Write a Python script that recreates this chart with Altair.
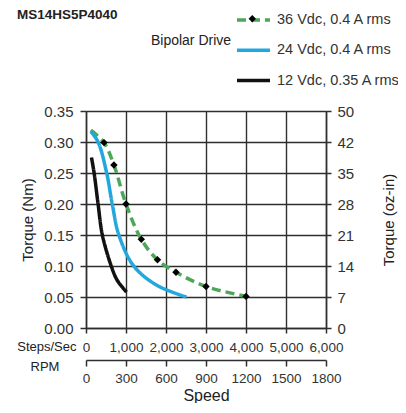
import altair as alt
import pandas as pd

# ---- data ----
series_names = ["36 Vdc, 0.4 A rms", "24 Vdc, 0.4 A rms", "12 Vdc, 0.35 A rms"]
series_colors = ["#4ea65a", "#22a7df", "#111111"]
series_dash = [[9, 5], [1, 0], [1, 0]]

speed_36 = [121, 450, 698, 1000, 1383, 1787, 2250, 3000, 4000]
torque_36 = [0.319, 0.299, 0.263, 0.200, 0.143, 0.110, 0.090, 0.067, 0.051]
marker_36 = [False, True, True, True, True, True, True, True, True]

speed_24 = [121, 302, 517, 656, 822, 1193, 1770, 2510]
torque_24 = [0.317, 0.300, 0.250, 0.200, 0.150, 0.100, 0.069, 0.050]

speed_12 = [137, 203, 302, 409, 631, 780, 1012]
torque_12 = [0.275, 0.250, 0.200, 0.150, 0.100, 0.077, 0.058]

steps_ticks = [0, 1000, 2000, 3000, 4000, 5000, 6000]
rpm_ticks = [0, 300, 600, 900, 1200, 1500, 1800]
torque_ticks = [0, 0.05, 0.1, 0.15, 0.2, 0.25, 0.3, 0.35]
NM_TO_OZIN = 141.6

FONT = "Liberation Sans"
GRID = "#2e2e2e"

rows = []
for name, xs, ys in [(series_names[0], speed_36, torque_36),
                     (series_names[1], speed_24, torque_24),
                     (series_names[2], speed_12, torque_12)]:
    for i, (x, y) in enumerate(zip(xs, ys)):
        rows.append({"series": name, "speed": x, "torque": y, "order": i})
df = pd.DataFrame(rows)
marker_key = series_names[0] + " marker"
df36 = pd.DataFrame({"speed": speed_36, "torque": torque_36, "marker": marker_36,
                     "mk": [marker_key] * len(speed_36)})
df_rpm = pd.DataFrame({"rpm": rpm_ticks})

x_scale = alt.Scale(domain=[0, 6000], nice=False)
y_scale = alt.Scale(domain=[0, 0.35], nice=False)

x_axis = alt.Axis(values=steps_ticks, format=",d", grid=True, labelFlush=False,
                  tickSize=5, labelPadding=7, labelFontSize=13.5,
                  title="Steps/Sec", titleX=-10, titleY=12, titleAlign="right",
                  titleBaseline="top", titleFontSize=13, titleFontWeight="normal")
y_axis = alt.Axis(orient="left", values=torque_ticks, format=".2f", grid=True,
                  labelFlush=False, tickSize=6, labelPadding=7, labelFontSize=15,
                  title="Torque (Nm)", titleFontSize=15, titlePadding=8,
                  titleFontWeight="normal")

legend = alt.Legend(
    title=None, orient="none", legendX=155.5, legendY=-103,
    symbolType="M-1.65,0H1.65", symbolSize=400, symbolStrokeWidth=3.5,
    labelFontSize=14.5, labelFont=FONT, labelColor="#333", labelOffset=11.5,
    rowPadding=11.25, padding=0,
)

marker_legend = alt.Legend(
    title=None, orient="none", legendX=161.8, legendY=-96.7,
    symbolSize=55, symbolFillColor="#000", symbolStrokeColor="#000",
    symbolStrokeWidth=1, labelFontSize=1, labelOpacity=0, labelOffset=0, padding=0,
)

lines = alt.Chart(df).mark_line(interpolate="catmull-rom", strokeWidth=3.5).encode(
    x=alt.X("speed:Q", scale=x_scale, axis=x_axis),
    y=alt.Y("torque:Q", scale=y_scale, axis=y_axis),
    color=alt.Color("series:N", scale=alt.Scale(domain=series_names, range=series_colors),
                    legend=legend),
    strokeDash=alt.StrokeDash("series:N", scale=alt.Scale(domain=series_names, range=series_dash),
                              legend=legend),
    order="order:Q",
)

markers = alt.Chart(df36).mark_point(filled=True, color="#000",
                                      size=55, opacity=1).encode(
    x=alt.X("speed:Q", scale=x_scale, axis=x_axis),
    y=alt.Y("torque:Q", scale=y_scale, axis=y_axis),
    shape=alt.Shape("mk:N", scale=alt.Scale(domain=[marker_key], range=["diamond"]),
                    legend=marker_legend),
).transform_filter("datum.marker")

main = alt.layer(lines, markers)

right_axis = alt.Chart(df36).mark_point(opacity=0).encode(
    x=alt.X("speed:Q", scale=x_scale, axis=None),
    y=alt.Y("torque:Q", scale=y_scale,
            axis=alt.Axis(orient="right", values=torque_ticks, grid=False, labelFlush=False,
                          labelExpr=f"format(datum.value*{NM_TO_OZIN}, '.0f')",
                          tickSize=5, labelPadding=6, labelFontSize=15,
                          title="Torque (oz-in)", titleAngle=270, titlePadding=43,
                          titleFontSize=15, titleFontWeight="normal")),
)

rpm_axis = alt.Chart(df_rpm).mark_point(opacity=0).encode(
    x=alt.X("rpm:Q", scale=alt.Scale(domain=[0, 1800], nice=False),
            axis=alt.Axis(orient="bottom", offset=32, values=rpm_ticks, grid=False,
                          labelFlush=False, format="d", tickSize=6, labelPadding=5,
                          labelFontSize=13.5, title="Speed", titleFontSize=16,
                          titlePadding=3, titleFontWeight="normal")),
)

def label(text, x, y, size, weight="normal", align="center"):
    return alt.Chart(pd.DataFrame({"t": [text]})).mark_text(
        font=FONT, fontSize=size, fontWeight=weight, align=align,
        baseline="middle", color="#222").encode(
        text="t:N", x=alt.value(x), y=alt.value(y))

title = label("MS14HS5P4040", -69, -96, 13.5, "bold", "left")
bipolar = label("Bipolar Drive", 105, -70, 14)
rpm_lab = label("RPM", -41, 256, 13)

chart = alt.layer(main, right_axis, rpm_axis, title, bipolar, rpm_lab).resolve_scale(
    x="independent", y="independent"
).properties(
    width=240, height=217,
    autosize=alt.AutoSizeParams(type="none"),
    padding={"left": 78, "top": 103, "right": 72, "bottom": 75},
).configure_view(stroke=None).configure_axis(
    labelFont=FONT, titleFont=FONT, labelColor="#333", titleColor="#222",
    domainColor=GRID, tickColor=GRID, gridColor=GRID, domainWidth=1.5,
    tickWidth=1.5, gridWidth=1.4, gridOpacity=1,
)

chart.save("out.html", embed_options={"renderer": "svg", "actions": False})
